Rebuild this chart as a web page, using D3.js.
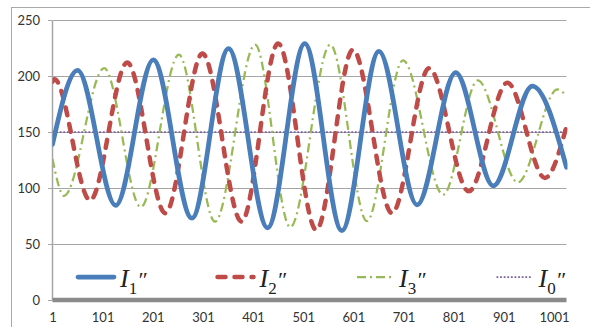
<!DOCTYPE html>
<html>
<head>
<meta charset="utf-8">
<script src="https://cdn.jsdelivr.net/npm/d3@7"></script>
<style>
  html, body { margin: 0; padding: 0; background: #fff; }
  svg { display: block; }
</style>
</head>
<body>
<svg id="chart" width="590" height="327"></svg>
<script>
// ---- Data ----
const xTickLabels = [1, 101, 201, 301, 401, 501, 601, 701, 801, 901, 1001];
const yTickValues = [0, 50, 100, 150, 200, 250];
const seriesNames = ["1", "2", "3", "0"]; // subscripts of I''

// [category index, value] at start, extrema and end of each curve
const i1Points = [[1,139],[51,205],[127,84.5],[202,214.5],[279,73],[352,224.5],[430,64.5],[504,229],[578,62],[652,222],[728,85],[805,203],[880,102],[958,191],[1026,118.5]];
const i2Points = [[1,195],[5,197],[76,89],[150,212],[226,77.5],[300,220],[378,70],[451,229],[527,62.5],[600,223.5],[678,77.5],[752,207],[831,97],[908,194],[983,109],[1026,155]];
const i3Points = [[1,126],[24,93],[104,207],[177,83],[253,219],[325,70],[405,228],[475,65],[555,228],[628,70.5],[700,214],[780,94],[849,196],[929,105],[1008,188],[1026,182]];
const i0Points = [[1,150],[1026,150]];

(function () {
// ---- Layout ----
const svg = d3.select("#chart");
const pLeft = 52.5, pRight = 566.5, pTop = 20, pBottom = 300;

const x = d3.scaleLinear().domain([1, 1026]).range([pLeft, pRight]);
const y = d3.scaleLinear().domain([0, 250]).range([pBottom, pTop]);

// outer chart border
svg.append("rect")
  .attr("x", 11.5).attr("y", 7.5).attr("width", 640).attr("height", 400)
  .attr("fill", "none").attr("stroke", "#a9a9a9").attr("stroke-width", 1);

// gridlines
svg.append("g")
  .selectAll("line")
  .data(yTickValues.filter(d => d > 0))
  .join("line")
  .attr("x1", pLeft).attr("x2", pRight)
  .attr("y1", d => Math.round(y(d)) + 0.5).attr("y2", d => Math.round(y(d)) + 0.5)
  .attr("stroke", "#a6a6a6").attr("stroke-width", 1);

// y axis
const yAxis = svg.append("g")
  .attr("transform", `translate(${pLeft - 0.5},0)`)
  .call(d3.axisLeft(y).tickValues(yTickValues).tickSize(4).tickPadding(8).tickSizeOuter(0));
yAxis.select(".domain").attr("stroke", "#a6a6a6").attr("stroke-width", 1.5);
yAxis.selectAll(".tick line").attr("stroke", "#a6a6a6");
yAxis.selectAll("text")
  .attr("font-family", "Lato, 'Open Sans', sans-serif")
  .attr("font-size", 13).attr("fill", "#333");

// clip for plot area
svg.append("clipPath").attr("id", "plotclip")
  .append("rect").attr("x", pLeft).attr("y", pTop - 10).attr("width", pRight - pLeft + 1).attr("height", pBottom - pTop + 10);

const line = d3.line().x(d => x(d[0])).y(d => y(d[1])).curve(d3.curveMonotoneX);

const styles = [
  { data: i1Points, color: "#4a7ebb", width: 4.75, dash: null, cap: "round" },
  { data: i2Points, color: "#be4b48", width: 4.5, dash: "8,9", cap: "round" },
  { data: i3Points, color: "#98b954", width: 2.25, dash: "9,4,2,4", cap: "butt" },
  { data: i0Points, color: "#7d60a0", width: 1.75, dash: "1.8,1.8", cap: "butt" }
];

const plot = svg.append("g").attr("clip-path", "url(#plotclip)");
[3, 2, 1, 0].forEach(i => {
  const s = styles[i];
  plot.append("path")
    .attr("d", line(s.data))
    .attr("fill", "none")
    .attr("stroke", s.color)
    .attr("stroke-width", s.width)
    .attr("stroke-dasharray", s.dash)
    .attr("stroke-linecap", s.cap)
    .attr("stroke-linejoin", "round");
});

// x axis (thick gray bar)
const xAxis = svg.append("g")
  .attr("transform", `translate(0,${pBottom})`)
  .call(d3.axisBottom(x).tickValues(xTickLabels).tickSize(0).tickPadding(13).tickFormat(d3.format("d")));
xAxis.select(".domain").attr("stroke", "#8a8a8a").attr("stroke-width", 4.5)
  .attr("d", `M${pLeft},0H${pRight}`);
xAxis.selectAll("text")
  .attr("font-family", "Lato, 'Open Sans', sans-serif")
  .attr("font-size", 13).attr("fill", "#333");

// legend
const legend = svg.append("g");
seriesNames.forEach((name, i) => {
  const s = styles[i];
  const lx = 78 + i * 139.5, ly = 277;
  legend.append("line")
    .attr("x1", lx).attr("x2", lx + 36).attr("y1", ly).attr("y2", ly)
    .attr("stroke", s.color).attr("stroke-width", s.width)
    .attr("stroke-dasharray", s.dash)
    .attr("stroke-linecap", s.cap);
  const t = legend.append("text")
    .attr("x", lx + 42).attr("y", 287)
    .attr("font-family", "'Liberation Serif', 'DejaVu Serif', serif")
    .attr("font-style", "italic").attr("fill", "#222");
  t.append("tspan").attr("font-size", 26).text("I");
  t.append("tspan").attr("font-size", 17).attr("font-style", "normal").attr("dy", 7).text(name);
  t.append("tspan").attr("font-size", 22).attr("dy", -7).text("\u2033");
});
})();
</script>
</body>
</html>
